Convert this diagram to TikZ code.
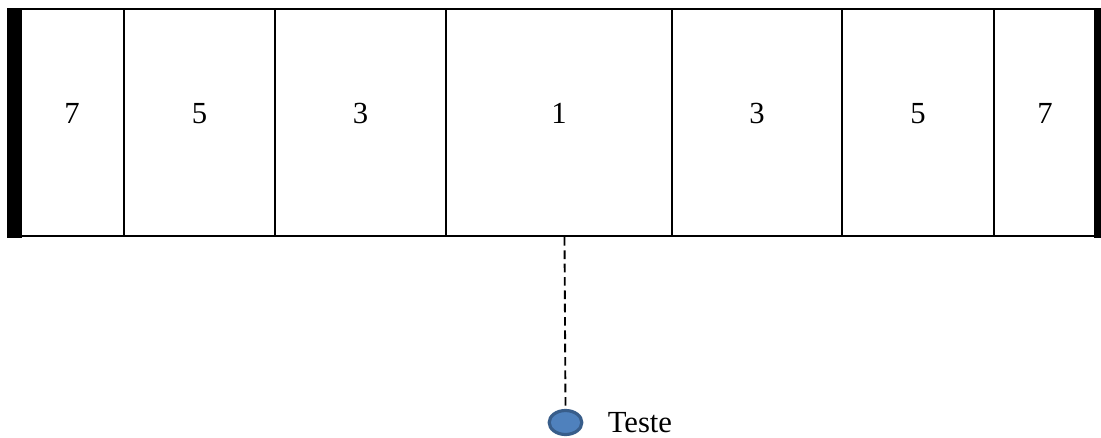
\documentclass[tikz,border=0pt]{standalone}
\usepackage{fontspec}
\setmainfont{Liberation Serif}
\usetikzlibrary{shapes.geometric}
\definecolor{dotfill}{HTML}{4F81BD}
\definecolor{dotline}{HTML}{385D8A}
\begin{document}
\begin{tikzpicture}[x=0.75pt,y=-0.75pt,
  frame/.style={line width=1.6pt,black},
  bar/.style={fill=black,draw=none},
  num/.style={font=\fontsize{23pt}{27pt}\selectfont,anchor=base,inner sep=0pt},
  conn/.style={line width=1.4pt,dash pattern=on 6.5pt off 3.5pt},
  dotnode/.style={ellipse,fill=dotfill,draw=dotline,line width=2.4pt,minimum width=24.5pt,minimum height=18pt,inner sep=0pt},
  lbl/.style={font=\fontsize{23pt}{27pt}\selectfont,anchor=base west,inner sep=0pt}]
\useasboundingbox (0,0) rectangle (1101,437);
% frame
\draw[frame] (7,9) -- (1101,9);
\draw[frame] (7,236) -- (1101,236);
\fill[bar] (7,8) rectangle (22,237.5);
\fill[bar] (1094,8) rectangle (1101,237.5);
\foreach \xx in {124,275,446,672,842,994}
  \draw[frame] (\xx,9) -- (\xx,236);
% labels
\node[num] (n1) at (72,123) {7};
\node[num] (n2) at (199.5,123) {5};
\node[num] (n3) at (360.5,123) {3};
\node[num] (n4) at (559,123) {1};
\node[num] (n5) at (757,123) {3};
\node[num] (n6) at (918,123) {5};
\node[num] (n7) at (1045,123) {7};
% connector
\coordinate (top) at (564.5,237);
\node[dotnode] (dot) at (565.5,422.5) {};
\draw[conn] (top) -- (dot.north);
\node[lbl] (teste) at (607.5,432) {Teste};
\end{tikzpicture}
\end{document}
